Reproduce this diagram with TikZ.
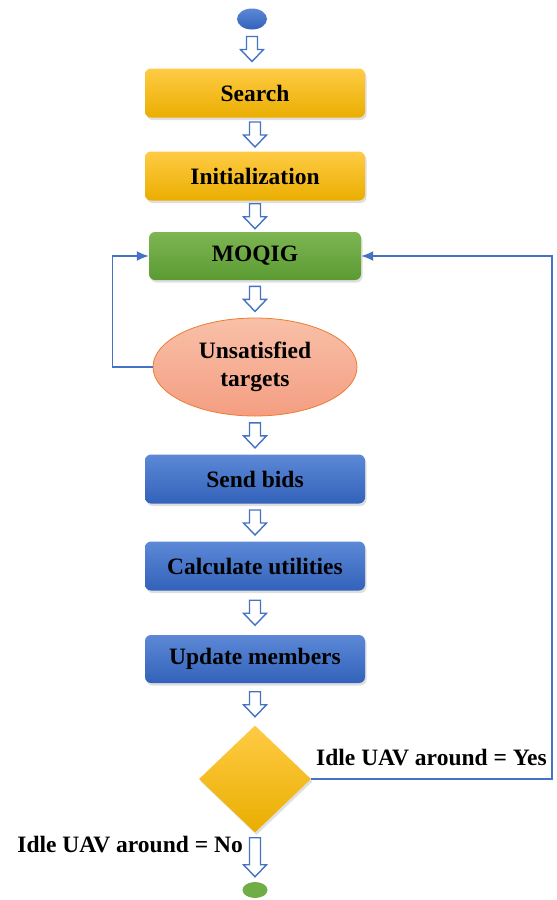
\documentclass[tikz,border=0pt]{standalone}
\usepackage{fontspec}
\setmainfont{Liberation Serif}
\usepackage{tikz}
\usetikzlibrary{arrows.meta,positioning,calc,shapes.geometric,shadows}

% hollow block arrow, centred in the gap between two nodes
\newcommand{\hollowstep}[3][25]{%
  \draw[hollow] let \p1=(#2.south), \p2=(#3.north),
    \n1={(\y1+\y2)/2+#1/2}, \n2={(\y1+\y2)/2-#1/2} in
    (\x1-5.5pt,\n1) -- (\x1+5.5pt,\n1) -- (\x1+5.5pt,\n2+12pt)
    -- (\x1+11.5pt,\n2+12pt) -- (\x1,\n2) -- (\x1-11.5pt,\n2+12pt)
    -- (\x1-5.5pt,\n2+12pt) -- cycle;}

\begin{document}
\begin{tikzpicture}[
  x=1pt,
  y=-1pt,
  >=Latex,
  font=\bfseries\fontsize{23.5}{28}\selectfont,
  stepbox/.style={rounded corners=6pt,minimum width=220pt,minimum height=49pt,
    inner sep=0pt,align=center,
    drop shadow={shadow xshift=1.5pt,shadow yshift=-2.5pt,opacity=0.25}},
  goldbox/.style={stepbox,top color=pdgoldtop,bottom color=pdgoldbot},
  greenbox/.style={stepbox,top color=pdgreentop,bottom color=pdgreenbot},
  bluebox/.style={stepbox,top color=pdbluetop,bottom color=pdbluebot},
  terminal/.style={ellipse,inner sep=0pt},
  hollow/.style={draw=pdline,line width=1.4pt,fill=white,line join=miter},
  loopline/.style={-{Latex[length=12pt,width=10pt]},draw=pdline,line width=1.6pt}
]
  \definecolor{pdgoldtop}{HTML}{FFCB45}
  \definecolor{pdgoldbot}{HTML}{EAAE00}
  \definecolor{pdgreentop}{HTML}{7DB653}
  \definecolor{pdgreenbot}{HTML}{5B9A32}
  \definecolor{pdbluetop}{HTML}{5C88D6}
  \definecolor{pdbluebot}{HTML}{3262BA}
  \definecolor{pdsalmontop}{HTML}{F8C0A8}
  \definecolor{pdsalmonbot}{HTML}{F49E82}
  \definecolor{pdorange}{HTML}{ED7D31}
  \definecolor{pdline}{HTML}{4472C4}
  \definecolor{pdend}{HTML}{70AD47}

  \useasboundingbox (0,0) rectangle (557,900);

  \node[terminal,minimum width=30pt,minimum height=21pt,
    top color=pdbluetop,bottom color=pdbluebot] (start) at (252,19) {};
  \node[goldbox] (search) at (255,93) {Search};
  \node[goldbox] (init) at (255,176) {Initialization};
  \node[greenbox,minimum width=212pt,minimum height=48pt] (moqig) at (255,256) {MOQIG};
  \node[ellipse,minimum width=204pt,minimum height=98pt,inner sep=0pt,align=center,
    top color=pdsalmontop,bottom color=pdsalmonbot,draw=pdorange,line width=0.8pt]
    (unsat) at (255,367) {Unsatisfied\\targets};
  \node[bluebox] (sendbids) at (255,479) {Send bids};
  \node[bluebox] (calcutil) at (255,566) {Calculate utilities};
  \node[bluebox,minimum height=48pt] (update) at (255,659) {Update members};
  \node[diamond,minimum width=112pt,minimum height=107pt,inner sep=0pt,
    top color=pdgoldtop,bottom color=pdgoldbot,
    drop shadow={shadow xshift=1.5pt,shadow yshift=-2.5pt,opacity=0.25}]
    (decide) at (255,779) {};
  \node[terminal,minimum width=25pt,minimum height=16pt,fill=pdend]
    (finish) at (255,890) {};

  \hollowstep{start}{search}
  \hollowstep{search}{init}
  \hollowstep{init}{moqig}
  \hollowstep{moqig}{unsat}
  \hollowstep{unsat}{sendbids}
  \hollowstep{sendbids}{calcutil}
  \hollowstep{calcutil}{update}
  \hollowstep{update}{decide}
  \hollowstep[39]{decide}{finish}

  \draw[loopline] (unsat.west) -- ++(-40,0) |- (moqig.west);
  \coordinate (rightTurn) at (552,779);
  \draw[loopline] (decide.east) -- (rightTurn) |- (moqig.east);

  \node[anchor=south west,inner sep=0pt] (yesLabel) at (316,766) {Idle UAV around = Yes};
  \node[anchor=east,inner sep=0pt] (noLabel) at (243,845) {Idle UAV around = No};
\end{tikzpicture}
\end{document}
